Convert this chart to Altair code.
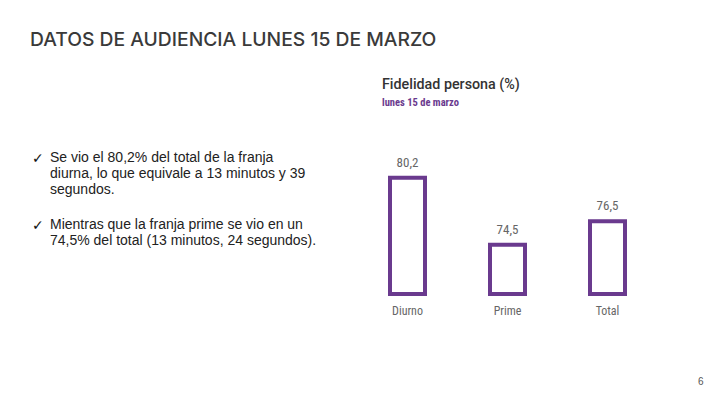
import altair as alt
import pandas as pd

categories = ["Diurno", "Prime", "Total"]
values = [80.2, 74.5, 76.5]
value_labels = ["80,2", "74,5", "76,5"]

title_text = "DATOS DE AUDIENCIA LUNES 15 DE MARZO"
chart_title = "Fidelidad persona (%)"
chart_subtitle = "lunes 15 de marzo"
bullet1 = ["Se vio el 80,2% del total de la franja", "diurna, lo que equivale a 13 minutos y 39", "segundos."]
bullet2 = ["Mientras que la franja prime se vio en un", "74,5% del total (13 minutos, 24 segundos)."]
page_number = "6"

PURPLE = "#6a3a8e"
NARROW = "Liberation Sans Narrow, Roboto Condensed, DejaVu Sans Condensed, Roboto, sans-serif"

df = pd.DataFrame({"cat": categories, "val": values, "lab": value_labels})

xs = alt.Scale(domain=categories, range=[349.5, 649.5], paddingInner=0.65, paddingOuter=0.325)
ys = alt.Scale(domain=[70.3, 82], range=[286, 148.5], zero=False, nice=False)

base = alt.Chart(df)

bars = base.mark_bar(fill="white", stroke=PURPLE, strokeWidth=4, clip=False).encode(
    x=alt.X("cat:N", scale=xs, axis=None, sort=categories),
    y=alt.Y("val:Q", scale=ys, axis=None),
    y2=alt.Y2(datum=70.3),
)

vlabels = base.mark_text(font=NARROW, fontSize=13, color="#666666", baseline="bottom", dy=-8).encode(
    x=alt.X("cat:N", scale=xs, axis=None, sort=categories),
    y=alt.Y("val:Q", scale=ys, axis=None),
    text="lab:N",
)

clabels = base.mark_text(font=NARROW, fontSize=12, color="#666666", baseline="middle").encode(
    x=alt.X("cat:N", scale=xs, axis=None, sort=categories),
    y=alt.value(303),
    text="cat:N",
)

def txt(s, x, y, size, color="#222222", font="Liberation Sans, Arial, sans-serif", weight="normal", align="left"):
    return alt.Chart(pd.DataFrame({"t": [s]})).mark_text(
        text=s, fontSize=size, color=color, font=font, fontWeight=weight, align=align, baseline="middle"
    ).encode(x=alt.value(x), y=alt.value(y))

layers = [bars, vlabels, clabels]
layers.append(txt(title_text, 22, 32, 19.3, color="#3a3a3a", font="Inter, Open Sans, sans-serif", weight=500))
layers.append(txt(chart_title, 374, 77, 14.3, color="#333333", font="Roboto, sans-serif", weight=500))
layers.append(txt(chart_subtitle, 374, 95, 10.5, color=PURPLE, font=NARROW, weight="bold"))
layers.append(txt("\u2713", 24, 151, 14, color="#111111", font="DejaVu Sans"))
for i, line in enumerate(bullet1):
    layers.append(txt(line, 42, 150 + 16 * i, 14))
layers.append(txt("\u2713", 24, 218, 14, color="#111111", font="DejaVu Sans"))
for i, line in enumerate(bullet2):
    layers.append(txt(line, 42, 217 + 16 * i, 14))
layers.append(txt(page_number, 690, 374, 10, color="#555555", font="Liberation Sans, Arial, sans-serif"))

chart = alt.layer(*layers).properties(
    width=704, height=389, autosize=alt.AutoSizeParams(type="none"), padding=0
).configure_view(stroke=None)

chart.save("out.html", embed_options={"renderer": "svg", "actions": False})
